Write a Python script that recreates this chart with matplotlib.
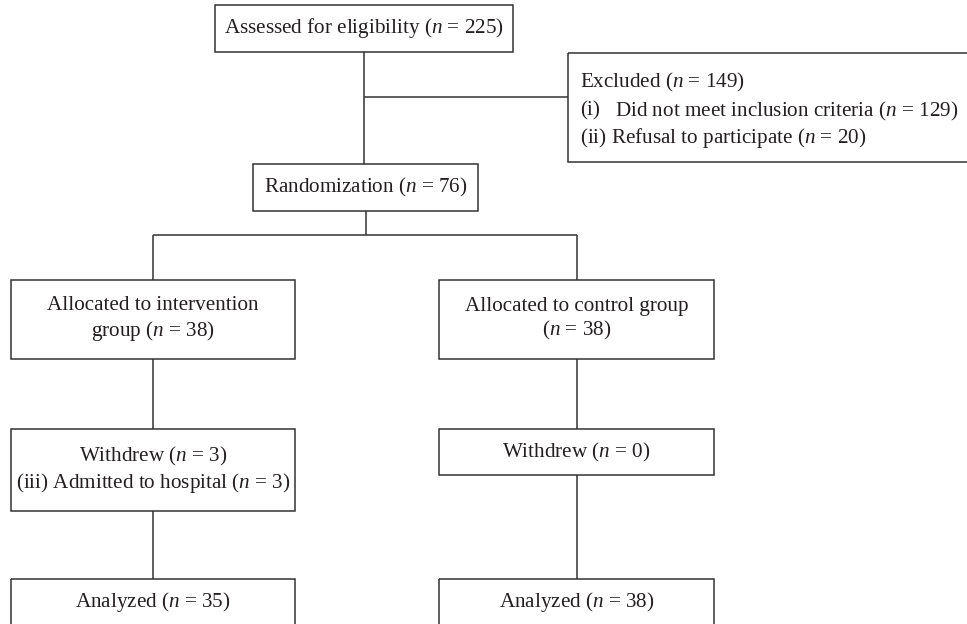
import matplotlib
matplotlib.use("Agg")
import matplotlib.pyplot as plt
from matplotlib.patches import Rectangle

plt.rcParams['font.family'] = ['Liberation Serif', 'DejaVu Serif']
plt.rcParams['mathtext.fontset'] = 'custom'
plt.rcParams['mathtext.rm'] = 'Liberation Serif'
plt.rcParams['mathtext.it'] = 'Liberation Serif:italic'

# Flow counts
assessed_n = 225
excluded_n = 149
not_meet_n = 129
refusal_n = 20
randomized_n = 76
allocated_n = [38, 38]
withdrew_n = [3, 0]
hospital_n = 3
analyzed_n = [35, 38]

# Box texts
box_assessed = rf"Assessed for eligibility ($n$ = {assessed_n})"
box_random = rf"Randomization ($n$ = {randomized_n})"
box_alloc = [rf"Allocated to intervention" "\n" rf"group ($n$ = {allocated_n[0]})",
             rf"Allocated to control group" "\n" rf"($n$ = {allocated_n[1]})"]
box_withdrew = [rf"Withdrew ($n$ = {withdrew_n[0]})" "\n" rf"(iii) Admitted to hospital ($n$ = {hospital_n})",
                rf"Withdrew ($n$ = {withdrew_n[1]})"]
box_analyzed = [rf"Analyzed ($n$ = {analyzed_n[0]})", rf"Analyzed ($n$ = {analyzed_n[1]})"]
excl_title = rf"Excluded ($n$ = {excluded_n})"
excl_items = [("(i)", rf"Did not meet inclusion criteria ($n$ = {not_meet_n})"),
              ("(ii)", rf"Refusal to participate ($n$ = {refusal_n})")]

W, H = 967, 624
fig = plt.figure(figsize=(W / 100, H / 100), dpi=100)
ax = fig.add_axes([0, 0, 1, 1])
ax.set_xlim(0, W)
ax.set_ylim(H, 0)
ax.axis('off')

LC = '#333333'
TC = '#231f20'
LW = 1.1
FS = 15.2

def box(x0, y0, x1, y1, text=None, fs=FS):
    ax.add_patch(Rectangle((x0, y0), x1 - x0, y1 - y0, fill=False,
                           edgecolor=LC, lw=LW, clip_on=True))
    if text is not None:
        ax.text((x0 + x1) / 2, (y0 + y1) / 2, text, ha='center', va='center',
                fontsize=fs, color=TC, linespacing=1.2)

def line(xs, ys):
    ax.plot(xs, ys, color=LC, lw=LW, solid_capstyle='butt')

# Top box
box(215, 5, 513, 52, box_assessed)
line([364, 364], [52, 164])
line([364, 568], [97, 97])

# Excluded box (extends past right edge)
ax.add_patch(Rectangle((568, 53), 500, 109, fill=False, edgecolor=LC, lw=LW))
ax.text(580, 82, excl_title, ha='left', va='center', fontsize=FS, color=TC)
ax.text(580, 111, excl_items[0][0], ha='left', va='center', fontsize=FS, color=TC)
ax.text(615, 111, excl_items[0][1], ha='left', va='center', fontsize=FS, color=TC)
ax.text(580, 138, excl_items[1][0] + " " + excl_items[1][1], ha='left', va='center',
        fontsize=FS, color=TC)

# Randomization
box(253, 164, 478, 211, box_random)
line([365.5, 365.5], [211, 235])

cols = [(11, 295), (439, 714)]
centers = [(a + b) / 2 for a, b in cols]
line([centers[0], centers[1]], [235, 235])

for i, (x0, x1) in enumerate(cols):
    c = centers[i]
    line([c, c], [235, 280])
    box(x0, 280, x1, 359, box_alloc[i])
    if i == 0:
        box(x0, 429, x1, 511, box_withdrew[i])
        line([c, c], [359, 429])
        line([c, c], [511, 579])
    else:
        box(x0, 429, x1, 475, box_withdrew[i])
        line([c, c], [359, 429])
        line([c, c], [475, 579])
    box(x0, 579, x1, 660, None)
    ax.text(c, 602, box_analyzed[i], ha='center', va='center', fontsize=FS, color=TC)

fig.savefig("out.png", dpi=100, facecolor='white')
